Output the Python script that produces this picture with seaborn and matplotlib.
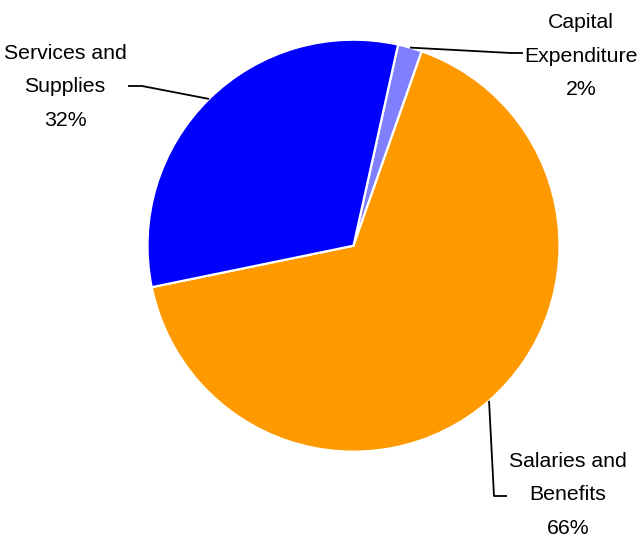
import numpy as np
import matplotlib
matplotlib.use("Agg")
import matplotlib.pyplot as plt
import seaborn as sns

# Budget split by expense category
categories = ["Capital\nExpenditure", "Salaries and\nBenefits", "Services and\nSupplies"]
shares = [1.9, 66.4, 31.7]
pct_labels = ["2%", "66%", "32%"]

sns.set_theme(style="white")
colors = sns.color_palette(["#8080FF", "#FF9900", "#0000FF"])
plt.rcParams["font.family"] = ["Liberation Sans", "DejaVu Sans"]

W, H = 639, 542
fig = plt.figure(figsize=(W / 100, H / 100), dpi=100)
ax = fig.add_axes([0, 0, 1, 1])

def py(y):
    return H - y

cx, cy, r = 353.5, py(245.7), 206
wedges, _ = ax.pie(
    shares, colors=colors, startangle=77.5, counterclock=False,
    center=(cx, cy), radius=r, frame=True,
    wedgeprops=dict(edgecolor="white", linewidth=1.6),
)
ax.set_xlim(0, W)
ax.set_ylim(0, H)
ax.set_aspect("equal")
ax.axis("off")

# leader-line elbows/ends and label centres (pixel layout)
elbows = [((511, 53), (523, 53)), ((494, 496), (507, 496)), ((142, 86), (128, 86))]
label_pos = [(581, 56), (568, 495), (65, 87)]

for w, (e1, e2), (lx, ly), cat, pct in zip(wedges, elbows, label_pos, categories, pct_labels):
    mid = np.deg2rad((w.theta1 + w.theta2) / 2)
    sx, sy = cx + r * np.cos(mid), cy + r * np.sin(mid)
    ax.plot([sx, e1[0], e2[0]], [sy, py(e1[1]), py(e2[1])], color="black", lw=1.3,
            solid_capstyle="butt")
    ax.text(lx, py(ly), f"{cat}\n{pct}", ha="center", va="center", fontsize=15.3,
            color="black", linespacing=1.95)

fig.savefig("out.png", dpi=100, facecolor="white")
